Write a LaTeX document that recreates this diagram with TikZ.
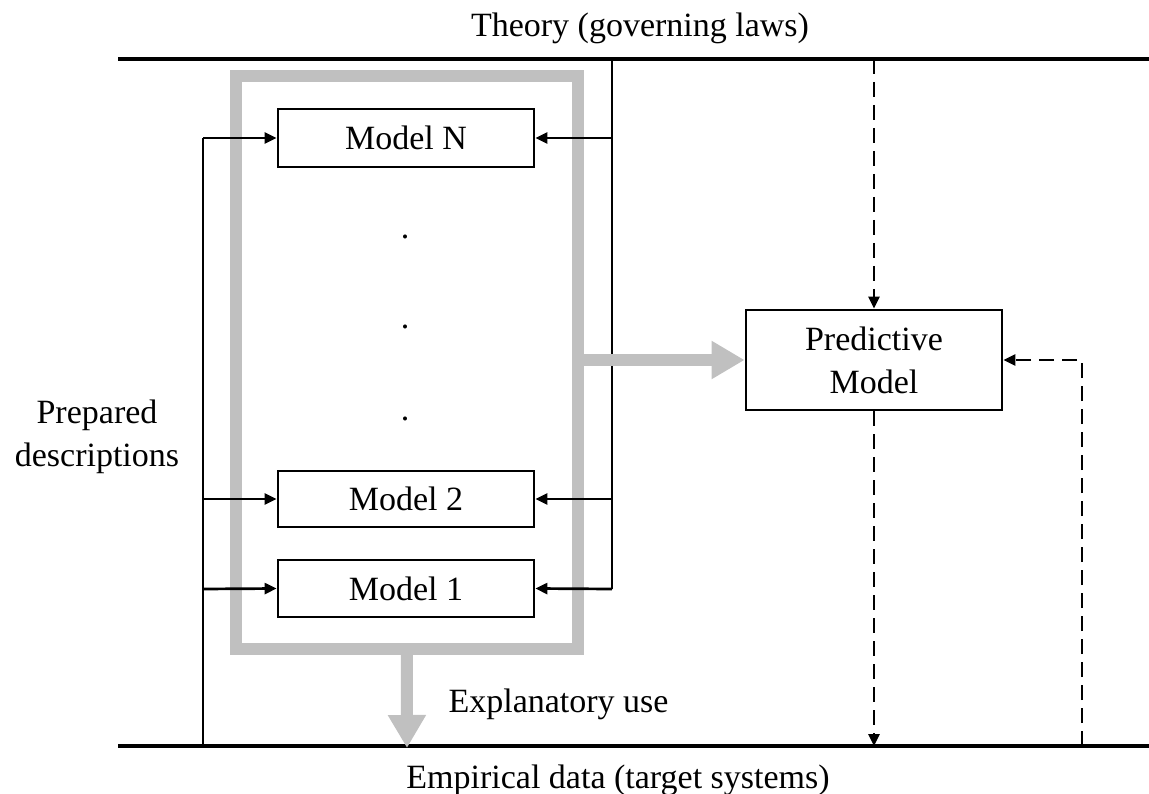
\documentclass[tikz,border=0pt]{standalone}
\usepackage{fontspec}
\setmainfont{Liberation Serif}
\usetikzlibrary{arrows.meta}
\definecolor{frameGray}{RGB}{192,192,192}

\begin{document}
\begin{tikzpicture}[x=1pt,y=-1pt,
  every node/.style={font=\fontsize{34}{43}\selectfont},
  boxstyle/.style={draw,line width=2.8pt,minimum width=256pt,inner sep=0pt},
  conn/.style={line width=2.7pt,-{Triangle[length=12pt,width=11pt]}},
  bus/.style={line width=2.7pt},
  dconn/.style={conn,dash pattern=on 15pt off 8pt},
  rulestyle/.style={line width=3.8pt},
  bigarrow/.style={draw=frameGray,line width=12pt,-{Triangle[length=33pt,width=36pt]}},
]
\useasboundingbox (0,0) rectangle (1149,794);

% horizontal rules: theory on top, empirical data at the bottom
\coordinate (topL) at (118,59);
\coordinate (topR) at (1149,59);
\coordinate (botL) at (118,746);
\coordinate (botR) at (1149,746);
\draw[rulestyle] (topL) -- (topR);
\draw[rulestyle] (botL) -- (botR);
\node[anchor=base] (theory) at (640,37) {Theory (governing laws)};
\node[anchor=base] (empirical) at (618,788) {Empirical data (target systems)};

% grey frame around the family of models
\node[draw=frameGray,line width=12pt,minimum width=341.5pt,minimum height=573pt,inner sep=0pt]
  (frame) at (406.75,362.5) {};

% the models
\node[boxstyle,minimum height=58pt] (mN) at (406,138) {Model N};
\node[boxstyle,minimum height=56pt] (m2) at (406,499) {Model 2};
\node[boxstyle,minimum height=57pt] (m1) at (406,588.5) {Model 1};
\node[anchor=base] (d1) at (405,239) {.};
\node[anchor=base] (d2) at (405,329) {.};
\node[anchor=base] (d3) at (405,420) {.};

% prepared descriptions feed in from the left
\node[align=center] (prep) at (97,437) {Prepared\\descriptions};
\coordinate (lTop) at (203,138);
\coordinate (lBot) at (203,746);
\coordinate (l2) at (203,499);
\coordinate (l1) at (203,589);
\draw[bus] (lTop) -- (lBot);
\draw[conn] (lTop) -- (mN.west);
\draw[conn] (l2) -- (m2.west);
\draw[conn] (l1) -- (m1.west);

% theory feeds in from the right
\coordinate (rTop) at (612,59);
\coordinate (rN) at (612,138);
\coordinate (r2) at (612,499);
\coordinate (r1) at (612,589);
\draw[bus] (rTop) -- (r1);
\draw[conn] (rN) -- (mN.east);
\draw[conn] (r2) -- (m2.east);
\draw[conn] (r1) -- (m1.east);

% predictive model
\node[boxstyle,minimum height=100pt,align=center] (pm) at (874,360) {Predictive\\Model};
\coordinate (pTop) at (874,59);
\coordinate (pBot) at (874,746);
\coordinate (fb) at (1082,746);
\draw[dconn] (pTop) -- (pm.north);
\draw[dconn] (pm.south) -- (pBot);
\draw[dconn] (fb) |- (pm.east);

% grey arrows: predictive use and explanatory use
\draw[bigarrow] (frame.east |- pm.west) -- (pm.west);
\coordinate (expEnd) at (407,748);
\draw[bigarrow] (frame.south) -- (expEnd);
\node[anchor=base west] (expl) at (445,712) {Explanatory use};
\end{tikzpicture}
\end{document}
